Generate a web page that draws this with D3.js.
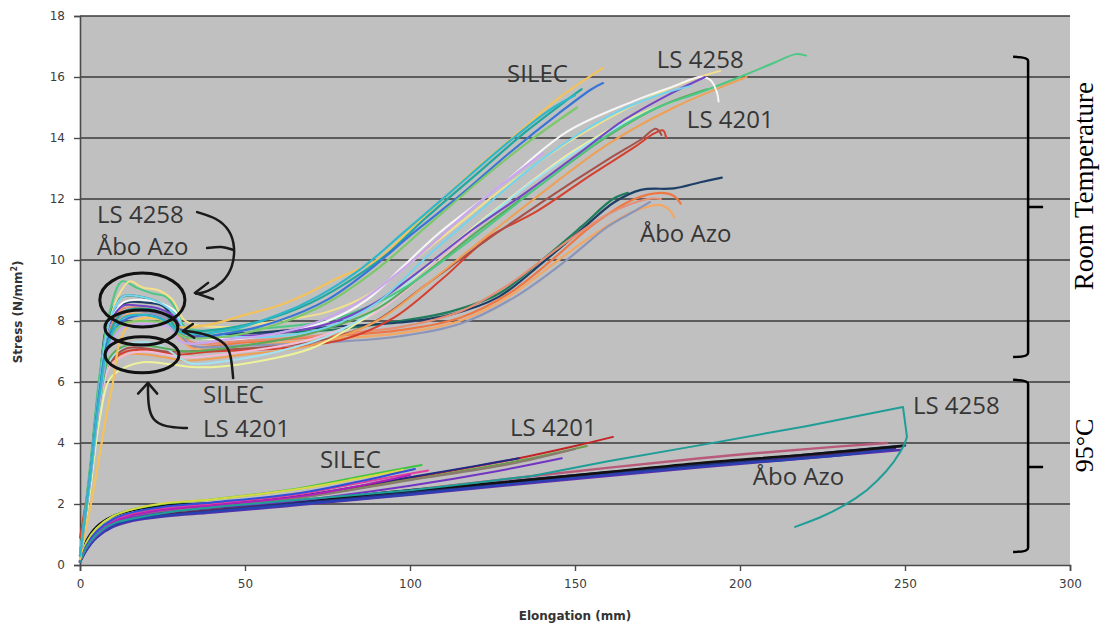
<!DOCTYPE html>
<html>
<head>
<meta charset="utf-8">
<script src="https://cdn.jsdelivr.net/npm/d3@7"></script>
<style>
  body { margin: 0; background: #fff; }
  svg { display: block; }
</style>
</head>
<body>
<div id="graph1"></div>
<script>
// axis ticks
const xTicks = [0, 50, 100, 150, 200, 250, 300];
const yTicks = [0, 2, 4, 6, 8, 10, 12, 14, 16, 18];

// room temperature curves, [elongation mm, stress N/mm2]
const silecRT = [
  [[0,0.2],[4,2.4],[8,4.9],[10,6.0],[12,7.3],[15,7.9],[20,8.1],[26,8.0],[30,7.8],[40,7.9],[50,8.2],[60,8.5],[67,8.8],[78,9.4],[90,10.0],[100,11.0],[110,12.0],[120,13.0],[131,14.0],[145,15.3],[158.5,16.3]],
  [[0,0.3],[3,2.9],[6,5.8],[9,7.6],[13,8.3],[20,8.4],[26,8.2],[30,7.7],[40,7.7],[55,8.0],[70,8.6],[80,9.2],[92,10.1],[105,11.4],[120,12.8],[135,14.2],[147,15.2],[152,15.6]],
  [[0,0.3],[3,2.8],[6,5.7],[9,7.5],[13,8.0],[20,8.2],[26,8.0],[31,7.5],[45,7.6],[60,8.0],[75,8.7],[88,9.7],[100,10.8],[115,12.1],[130,13.5],[145,14.8],[155,15.6],[158.5,15.8]],
  [[0,0.3],[3,2.7],[6,5.5],[9,7.3],[13,7.9],[20,8.0],[27,7.9],[31,7.5],[45,7.5],[60,7.9],[75,8.6],[90,9.7],[105,11.1],[120,12.5],[135,13.8],[150.6,15.0]],
  [[0,0.3],[3,2.7],[6,5.4],[9,7.2],[13,7.8],[20,7.9],[27,7.8],[31,7.3],[45,7.4],[60,7.6],[75,8.1],[87,8.8],[100,9.9],[120,11.8],[140.3,13.5]],
  [[0,0.3],[3,2.8],[6,5.6],[9,7.4],[13,8.1],[20,8.2],[26,8.0],[31,7.6],[45,7.7],[60,8.2],[72,8.8],[85,9.7],[98,10.9],[112,12.2],[128,13.7],[142,14.9],[150,15.4]]
];
const silecRTColors = ["#f4c25a", "#22a89e", "#3b74d6", "#7cc86a", "#c9a6ee", "#2fb7c9"];

const ls4258RT = [
  [[0,0.4],[3,3.2],[6,6.3],[9,8.3],[12.7,9.3],[17,9.1],[22,8.9],[26,8.8],[29,8.4],[32,7.8],[45,7.7],[60,7.8],[75,8.0],[90,8.6],[100,9.2],[120,10.8],[140,12.5],[160,14.1],[175,15.0],[188,15.5],[200,16.0],[210,16.45],[217,16.75],[220,16.7]],
  [[0,0.3],[3,2.9],[6,5.9],[9,8.0],[12,8.9],[15,9.3],[19,9.1],[24,9.0],[28,8.7],[32,8.0],[45,7.8],[60,8.0],[75,8.3],[88,8.9],[100,9.9],[115,11.2],[130,12.5],[150,14.0],[170,15.2],[185,15.9],[194,16.2]],
  [[0,0.3],[3,2.9],[6,5.8],[9,7.9],[13,8.6],[18,8.7],[24,8.6],[29,8.3],[32,7.6],[45,7.4],[60,7.6],[75,8.0],[87,8.7],[98,9.8],[109,10.9],[127,12.4],[147.5,14.2],[167.6,15.2],[180,15.7],[188,16.0],[191,15.9],[193,15.5],[193.5,15.2]],
  [[0,0.3],[3,3.0],[6,6.0],[9,7.9],[13,8.5],[18,8.5],[24,8.4],[29,8.1],[32,7.6],[45,7.5],[60,7.6],[75,7.9],[88,8.5],[100,9.4],[119,11.0],[135,12.2],[150,13.4],[165,14.6],[178,15.4],[189.4,16.0]],
  [[0,0.3],[3,3.0],[6,6.0],[9,8.0],[13,8.8],[18,8.8],[24,8.6],[29,8.2],[32,7.7],[45,7.5],[60,7.5],[75,7.8],[90,8.6],[105,10.1],[120,11.5],[140,13.3],[160,14.7],[175,15.4],[185,15.7]]
];
const ls4258RTColors = ["#4cc884", "#f2e08c", "#f6f6f6", "#7446c4", "#72d4ee"];

const ls4201RT = [
  [[0,0.9],[3,2.9],[6,5.3],[9,6.6],[14,7.0],[20,7.05],[26,6.95],[30,6.9],[40,7.0],[60,7.1],[80,7.4],[95,8.1],[110,9.4],[124,10.75],[138.5,11.6],[155,12.8],[168,13.7],[174,14.15],[176.7,14.25],[177.6,14.0]],
  [[0,0.3],[3,2.7],[6,5.2],[9,6.6],[14,7.1],[20,7.1],[26,7.0],[32,7.0],[50,7.1],[70,7.3],[88,7.9],[105,9.2],[120,10.4],[140,11.9],[160,13.3],[170,13.95],[174.5,14.3],[176.2,14.1]],
  [[0,0.3],[3,2.6],[6,5.2],[9,6.5],[14,6.9],[20,6.9],[26,6.8],[32,6.7],[50,6.9],[70,7.2],[90,8.0],[105,9.2],[120,10.5],[140,12.2],[160,13.8],[180,15.0],[195,15.7],[202,16.0]],
  [[0,0.3],[3,2.6],[6,5.1],[9,6.5],[14,6.9],[20,7.0],[26,6.9],[32,6.8],[50,7.0],[70,7.4],[90,8.3],[110,10.1],[130,12.0],[150,13.6],[165,14.4]],
  [[0,0.2],[3,2.4],[6,4.8],[9,6.1],[14,6.5],[19,6.65],[26,6.6],[33,6.5],[42,6.5],[55,6.7],[70,7.1],[85,8.0],[100,9.3],[115,10.7],[130,12.0],[150,13.6],[170,14.8],[180,15.2]],
  [[0,0.3],[3,2.6],[6,5.2],[9,6.7],[14,7.2],[20,7.3],[26,7.1],[30,6.8],[34,6.6],[45,6.7],[60,7.0],[75,7.5],[90,8.4],[105,9.8],[120,11.1],[140,12.8],[160,14.2],[175,15.0]],
  [[0,0.3],[3,2.7],[6,5.3],[9,6.8],[14,7.2],[20,7.2],[26,7.1],[32,7.0],[50,7.2],[70,7.6],[90,8.4],[105,9.6],[120,10.9],[140,12.5],[157.6,13.9],[175,15.0],[190,15.6]]
];
const ls4201RTColors = ["#d5402e", "#a5524a", "#f0a055", "#f2bcd8", "#eef29a", "#a2e2f2", "#5aaa5a"];

const aboRT = [
  [[0,0.3],[3,3.0],[6,6.1],[9,8.2],[13,8.8],[18,8.8],[24,8.6],[29,8.2],[32,7.6],[50,7.6],[75,7.7],[97,8.0],[112,8.3],[127,8.9],[140,10.0],[152,11.1],[161.5,12.0],[166,12.2]],
  [[0,0.3],[3,3.0],[6,6.1],[9,8.1],[14,8.6],[20,8.6],[25,8.5],[29,8.0],[32,7.6],[50,7.6],[75,7.8],[97,7.95],[112,8.2],[127,8.8],[140,9.9],[152,11.0],[162,11.9],[170,12.3],[180,12.35],[188,12.55],[194.5,12.7]],
  [[0,0.3],[3,2.9],[6,5.9],[9,7.8],[13,8.3],[20,8.3],[26,8.1],[30,7.6],[33,7.2],[50,7.3],[75,7.5],[97,7.7],[115,8.1],[130,8.9],[143,10.0],[156,11.2],[168,12.0],[176,12.2],[180,12.1],[182,11.85]],
  [[0,0.3],[3,2.8],[6,5.7],[9,7.6],[14,8.2],[20,8.2],[26,8.0],[30,7.5],[34,7.1],[50,7.2],[75,7.4],[97,7.6],[115,8.0],[130,8.8],[145,10.0],[158,11.0],[168,11.6],[176,11.8],[179,11.6],[180,11.4]],
  [[0,0.3],[3,2.8],[6,5.7],[9,7.6],[14,8.3],[20,8.3],[26,8.1],[30,7.6],[34,7.2],[50,7.2],[75,7.3],[97,7.5],[115,7.9],[132,8.8],[147.5,10.0],[160,11.1],[168,11.6],[172.7,11.9]],
  [[0,0.3],[3,2.9],[6,5.8],[9,7.7],[13,8.4],[20,8.4],[26,8.2],[30,7.7],[34,7.3],[50,7.35],[75,7.55],[97,7.8],[115,8.3],[130,9.2],[145,10.4],[160,11.5],[172,12.0],[176,12.0]]
];
const aboRTColors = ["#1f7d5c", "#1d3f66", "#ee7845", "#f3a764", "#8b95b9", "#e58e74"];

// 95 degC curves
const silec95 = [
  [[0,0.1],[2,0.75],[5,1.2],[10,1.6],[15,1.8],[25,2.0],[40,2.15],[66.7,2.52],[85,2.9],[103.5,3.28]],
  [[0,0.1],[2,0.75],[5,1.2],[10,1.6],[15,1.8],[25,2.02],[40,2.15],[66.7,2.5],[85,2.85],[98,3.12]],
  [[0,0.1],[2,0.6],[5,1.05],[10,1.45],[15,1.65],[25,1.85],[40,2.0],[66.7,2.32],[85,2.7],[105.5,3.1]],
  [[0,0.1],[2,0.65],[5,1.1],[10,1.5],[15,1.7],[25,1.9],[40,2.05],[66.7,2.36],[85,2.75],[101.5,3.15]],
  [[0,0.1],[2,0.6],[5,1.0],[10,1.4],[15,1.6],[25,1.8],[40,1.95],[66.7,2.25],[85,2.6],[100,2.95]]
];
const silec95Colors = ["#3ec43e", "#d8d842", "#e2409e", "#2f4fd8", "#b020b8"];

const ls4201_95 = [
  [[0,0.1],[2,0.6],[5,1.0],[10,1.4],[15,1.6],[25,1.8],[40,1.95],[66.7,2.25],[100,2.85],[133,3.5],[150,3.9],[161.5,4.2]],
  [[0,0.1],[2,0.62],[5,1.02],[10,1.42],[15,1.62],[25,1.82],[40,1.97],[66.7,2.27],[100,2.88],[120,3.25],[133,3.5]],
  [[0,0.1],[2,0.6],[5,1.0],[10,1.4],[15,1.6],[25,1.8],[40,1.94],[66.7,2.22],[100,2.8],[130,3.35],[153.6,3.9]],
  [[0,0.1],[2,0.55],[5,0.95],[10,1.35],[15,1.55],[25,1.75],[40,1.88],[66.7,2.12],[100,2.6],[125,3.05],[146,3.5]],
  [[0,0.1],[2,0.6],[5,1.0],[10,1.4],[15,1.6],[25,1.78],[40,1.92],[66.7,2.2],[100,2.78],[130,3.3],[150,3.8]]
];
const ls4201_95Colors = ["#c42424", "#1e2a86", "#6e9a4c", "#7234c2", "#8a7a70"];

const ls4258_95 = [
  [[0,0.1],[1.5,0.5],[3,0.75],[5,1.0],[8,1.25],[11,1.4],[15,1.5],[22,1.65],[30,1.78],[45,1.94],[60,2.08],[80,2.26],[100,2.45],[120,2.7],[137,2.92],[160,3.4],[188,3.93],[220,4.55],[249.4,5.18],[250.6,4.2],[249.8,3.95],[248.5,3.7],[246.7,3.4],[244.5,3.1],[241.7,2.78],[238.5,2.46],[235.2,2.2],[231.8,1.97],[228,1.75],[224,1.55],[220.5,1.4],[216.7,1.25]]
];
const ls4258_95Colors = ["#1f9d96"];

const abo95 = [
  [[0,0.1],[2,0.6],[5,1.0],[10,1.35],[16,1.55],[26,1.72],[40,1.86],[66.7,2.08],[100,2.45],[140,2.95],[188,3.5],[220,3.8],[244.5,4.0]],
  [[0,0.1],[2,0.5],[5,0.9],[10,1.25],[16,1.45],[26,1.6],[40,1.72],[66.7,1.97],[100,2.3],[140,2.72],[188,3.2],[220,3.5],[248.5,3.77]],
  [[0,0.1],[2,0.55],[5,0.95],[10,1.3],[16,1.5],[26,1.66],[40,1.8],[66.7,2.03],[100,2.36],[140,2.8],[188,3.26],[220,3.56],[247,3.83]],
  [[0,0.1],[2,0.5],[5,0.9],[10,1.28],[16,1.48],[26,1.62],[40,1.75],[66.7,2.0],[100,2.32],[140,2.76],[188,3.23],[230,3.6],[246,3.8]],
  [[0,0.1],[2,0.6],[5,1.05],[10,1.4],[16,1.6],[26,1.75],[40,1.88],[66.7,2.08],[100,2.4],[140,2.85],[188,3.3],[220,3.62],[250,3.92]],
  [[0,0.15],[2,0.8],[5,1.25],[10,1.6],[16,1.8],[26,1.95],[40,2.02],[66.7,2.12],[100,2.45],[127,2.7],[160,3.05],[188,3.35],[220,3.62],[249.4,3.9]]
];
const abo95Colors = ["#b85a7a", "#5a2fae", "#4a2a60", "#2840b0", "#202e72", "#111111"];

// labels written on the chart: text, x, y (data units of the baseline start)
const labels = [
  ["SILEC", 129.4, 15.84], ["LS 4258", 174.8, 16.3], ["LS 4201", 183.9, 14.33], ["Åbo Azo", 169.7, 10.59],
  ["LS 4258", 5.15, 11.21], ["Åbo Azo", 5.15, 10.16], ["SILEC", 37.3, 5.31], ["LS 4201", 37.3, 4.2],
  ["SILEC", 72.7, 3.18], ["LS 4201", 130.3, 4.23], ["LS 4258", 252.4, 4.95], ["Åbo Azo", 203.9, 2.62]
];

// peak circles: cx, cy, rx, ry (data units)
const rings = [[18.9, 8.69, 12.9, 0.885], [18.6, 7.79, 11.06, 0.574], [18.8, 6.89, 11.2, 0.59]];

const width = 1101, height = 625;
const margin = {top: 16, right: 31, bottom: 60, left: 80};

let svg = d3.select("#graph1")
    .append("svg")
    .attr("width", width)
    .attr("height", height);

let x = d3.scaleLinear().domain([0, 300]).range([margin.left, width - margin.right]);
let y = d3.scaleLinear().domain([0, 18]).range([height - margin.bottom, margin.top]);

// gray plot area
svg.append("rect")
    .attr("x", x(0)).attr("y", y(18))
    .attr("width", x(300) - x(0)).attr("height", y(0) - y(18))
    .attr("fill", "#c0c0c0");

// horizontal grid
svg.append("g").selectAll("line")
    .data(yTicks.filter(d => d > 0))
    .enter().append("line")
    .attr("x1", x(0)).attr("x2", x(300))
    .attr("y1", d => y(d)).attr("y2", d => y(d))
    .attr("stroke", "#3a3a3a")
    .attr("stroke-width", 1.7);

// axes
let xAxis = svg.append("g")
    .attr("transform", `translate(0, ${y(0)})`)
    .call(d3.axisBottom(x).tickValues(xTicks).tickSize(6).tickPadding(8));
let yAxis = svg.append("g")
    .attr("transform", `translate(${x(0)}, 0)`)
    .call(d3.axisLeft(y).tickValues(yTicks).tickSize(6).tickPadding(9));

[xAxis, yAxis].forEach(a => {
  a.select(".domain").attr("stroke", "#4a4a4a").attr("stroke-width", 1.6);
  a.selectAll(".tick line").attr("stroke", "#4a4a4a").attr("stroke-width", 1.4);
  a.selectAll(".tick text")
      .attr("fill", "#3c3c3c")
      .style("font-family", "'DejaVu Sans', Verdana, sans-serif")
      .style("font-size", "12px");
});

// axis titles
svg.append("text")
    .attr("transform", `translate(${x(150)}, 620)`)
    .style("text-anchor", "middle")
    .style("font-family", "'DejaVu Sans', Verdana, sans-serif")
    .style("font-weight", "bold")
    .style("font-size", "12px")
    .attr("fill", "#333")
    .text("Elongation (mm)");

let yTitle = svg.append("text")
    .attr("transform", `translate(22, ${y(8.3)}) rotate(-90)`)
    .style("text-anchor", "middle")
    .style("font-family", "'DejaVu Sans', Verdana, sans-serif")
    .style("font-weight", "bold")
    .style("font-size", "12px")
    .attr("fill", "#333");
yTitle.append("tspan").text("Stress (N/mm");
yTitle.append("tspan").attr("dy", -5).style("font-size", "8px").text("2");
yTitle.append("tspan").attr("dy", 5).text(")");

// curves
let smooth = d3.line()
    .x(d => x(d[0]))
    .y(d => y(d[1]))
    .curve(d3.curveCatmullRom.alpha(0.5));
let straight = d3.line()
    .x(d => x(d[0]))
    .y(d => y(d[1]));

let groups = [
  [abo95, abo95Colors, 2.4, smooth],
  [ls4201_95, ls4201_95Colors, 2, smooth],
  [silec95, silec95Colors, 2, smooth],
  [ls4258_95, ls4258_95Colors, 2, straight],
  [aboRT, aboRTColors, 2.2, smooth],
  [ls4201RT, ls4201RTColors, 2, smooth],
  [ls4258RT, ls4258RTColors, 2, smooth],
  [silecRT, silecRTColors, 2.2, smooth]
];

let curveRef = svg.append("g");
groups.forEach(g => {
  curveRef.append("g").selectAll("path")
      .data(g[0])
      .enter().append("path")
      .attr("d", g[3])
      .attr("fill", "none")
      .attr("stroke", (d, i) => g[1][i])
      .attr("stroke-width", g[2])
      .attr("stroke-linejoin", "round")
      .attr("stroke-linecap", "round");
});

// annotations
let notes = svg.append("g");

notes.selectAll("ellipse")
    .data(rings)
    .enter().append("ellipse")
    .attr("cx", d => x(d[0]))
    .attr("cy", d => y(d[1]))
    .attr("rx", d => x(d[2]) - x(0))
    .attr("ry", d => y(0) - y(d[3]))
    .attr("fill", "none")
    .attr("stroke", "#111")
    .attr("stroke-width", 3);

let arrowLine = d3.line()
    .x(d => x(d[0]))
    .y(d => y(d[1]))
    .curve(d3.curveBasis);

let arrows = [
  [[35.5,11.57],[41.5,11.38],[45.5,10.98],[47,10.43],[46.4,9.77],[43.3,9.25],[38.5,8.95],[35.2,8.89]],
  [[38.5,10.39],[43,10.46],[46.4,10.33]],
  [[38.8,9.25],[34.8,8.92],[40.3,8.72]],
  [[46.4,6.13],[45.8,6.89],[44.2,7.28],[39.4,7.54],[33.3,7.67],[31.2,7.67]],
  [[34.2,7.9],[31.2,7.67],[34.6,7.45]],
  [[32.4,4.49],[25.8,4.52],[21.8,4.75],[20.6,5.25],[20.6,5.97]],
  [[17.6,5.62],[20.6,5.97],[23.4,5.62]]
];

notes.selectAll("path")
    .data(arrows)
    .enter().append("path")
    .attr("d", (d, i) => (i === 2 || i === 4 || i === 6) ? straight(d) : arrowLine(d))
    .attr("fill", "none")
    .attr("stroke", "#1a1a1a")
    .attr("stroke-width", 2.5)
    .attr("stroke-linecap", "round")
    .attr("stroke-linejoin", "round");

notes.selectAll("text")
    .data(labels)
    .enter().append("text")
    .attr("x", d => x(d[1]))
    .attr("y", d => y(d[2]))
    .style("font-family", "'Open Sans', 'Noto Sans', sans-serif")
    .style("font-size", "24px")
    .attr("fill", "#363636")
    .text(d => d[0]);

// right-hand brackets
let bracket = function(top, mid, bottom) {
  let bx = x(287.3);
  let p = d3.path();
  p.moveTo(bx - 15, y(top));
  p.quadraticCurveTo(bx, y(top), bx, y(top) + 4);
  p.lineTo(bx, y(bottom) - 4);
  p.quadraticCurveTo(bx, y(bottom), bx - 15, y(bottom));
  p.moveTo(bx, y(mid));
  p.lineTo(bx + 15, y(mid));
  svg.append("path")
      .attr("d", p.toString())
      .attr("fill", "none")
      .attr("stroke", "#000")
      .attr("stroke-width", 2.5);
};
bracket(16.66, 11.74, 6.82);
bracket(6.07, 3.21, 0.43);

svg.append("text")
    .attr("transform", `translate(1093, ${y(12.42)}) rotate(-90)`)
    .style("text-anchor", "middle")
    .style("font-family", "'Liberation Serif', 'Times New Roman', serif")
    .style("font-size", "27px")
    .attr("fill", "#000")
    .text("Room Temperature");

svg.append("text")
    .attr("transform", `translate(1093, ${y(3.92)}) rotate(-90)`)
    .style("text-anchor", "middle")
    .style("font-family", "'Liberation Serif', 'Times New Roman', serif")
    .style("font-size", "26px")
    .attr("fill", "#000")
    .text("95°C");
</script>
</body>
</html>
